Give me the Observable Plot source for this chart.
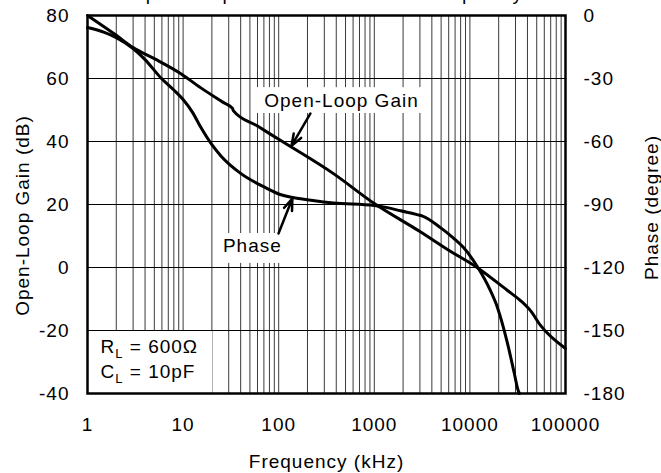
<!DOCTYPE html>
<html><head><meta charset="utf-8">
<script src="https://cdn.jsdelivr.net/npm/d3@7"></script>
<script src="https://cdn.jsdelivr.net/npm/@observablehq/plot@0.6"></script>
<style>
body{margin:0;background:#fff;}
#chart svg text{letter-spacing:1px;}
</style></head><body><div id="chart"></div>
<script>
// Open-loop gain (dB) vs frequency (kHz)
const gainFreq = [1, 2, 3, 5, 9.4, 15.2, 26, 32.9, 33.5, 60, 100, 374, 1000, 3000, 5830, 12300, 24700, 33800, 43000, 54800, 100000];
const gainDb   = [80, 73.7, 69.8, 66.3, 61.6, 57.1, 52.5, 50.5, 49.8, 44.9, 40.7, 29.8, 20.3, 11.4, 5.7, -0.3, -7.3, -10.5, -13.7, -18.4, -25.7];
// Phase (degree) vs frequency (kHz)
const phaseFreq = [1, 1.5, 2, 3, 4, 5.8, 8, 10, 12.5, 15, 20, 25, 40, 76, 100, 170, 374, 1000, 1370, 1880, 2800, 3200, 4920, 6730, 8570, 12300, 16000, 19400, 24700, 29000, 32000, 33000];
const phaseDeg  = [-5.7, -8, -10.5, -15.7, -21, -29.5, -35.5, -40, -46, -52.5, -61.5, -67, -75.2, -82.4, -85, -87.3, -89.3, -90.5, -91.5, -93, -94.8, -95.5, -101, -106, -110.5, -120.5, -130, -139, -156, -170, -178.6, -180];

const xTicks = [1, 10, 100, 1000, 10000, 100000];
const gainTicks = [-40, -20, 0, 20, 40, 60, 80];
const phaseTicks = [0, -30, -60, -90, -120, -150, -180];

const titleText = "Open-Loop Gain and Phase vs Frequency";
const xLabel = "Frequency (kHz)";
const yLeftLabel = "Open-Loop Gain (dB)";
const yRightLabel = "Phase (degree)";

// annotation boxes, labels, arrows (data coordinates: kHz, dB)
const boxF1 = [60, 20.8, 1];
const boxF2 = [3435, 139, 20.3];
const boxG1 = [48.9, 1.3, -40];
const boxG2 = [57.1, 10.8, -20.2];
const labelText = ["Open-Loop Gain", "Phase"];
const labelF = [454, 53];
const labelG = [53, 6.7];
const arrowF1 = [215, 99.5];
const arrowG1 = [48.9, 10.8];
const arrowF2 = [136, 139];
const arrowG2 = [38.6, 21.9];
const legendLines = ["RL = 600Ω", "CL = 10pF"];
const legendF = [1.368, 1.368];
const legendG = [-25.2, -33.0];

// phase mapped onto the gain axis: 0° -> 80 dB, -180° -> -40 dB
const toGain = p => 80 + p * 120 / 180;
const fromGain = g => Math.round((g - 80) * 180 / 120);

const gridFreqs = [];
for (let e = 0; e < 5; e++) for (let m = 1; m <= 9; m++) gridFreqs.push(m * Math.pow(10, e));
gridFreqs.push(100000);

const gain = gainFreq.map((f, i) => ({f, g: gainDb[i]}));
const phase = phaseFreq.map((f, i) => ({f, g: toGain(phaseDeg[i])}));
const boxes = boxF1.map((f1, i) => ({f1, f2: boxF2[i], g1: boxG1[i], g2: boxG2[i]}));
const labels = labelText.map((t, i) => ({t, f: labelF[i], g: labelG[i]}));
const arrows = arrowF1.map((f1, i) => ({f1, g1: arrowG1[i], f2: arrowF2[i], g2: arrowG2[i]}));
const legend = legendLines.map((t, i) => ({t, f: legendF[i], g: legendG[i]}));

const svg = Plot.plot({
  width: 661,
  height: 473,
  marginTop: 15,
  marginBottom: 80,
  marginLeft: 87,
  marginRight: 96,
  style: {fontFamily: "'Liberation Sans', Arial, sans-serif", fontSize: "19px", color: "black", background: "white"},
  x: {type: "log", domain: [1, 100000]},
  y: {domain: [-40, 80]},
  marks: [
    Plot.ruleX(gridFreqs, {x: d => d, stroke: "#3a3a3a", strokeWidth: 1}),
    Plot.rect(boxes, {x1: "f1", x2: "f2", y1: "g1", y2: "g2", fill: "white"}),
    Plot.ruleY(gainTicks, {y: d => d, stroke: "black", strokeWidth: 1}),
    Plot.line(gain, {x: "f", y: "g", stroke: "black", strokeWidth: 3, curve: "monotone-x"}),
    Plot.line(phase, {x: "f", y: "g", stroke: "black", strokeWidth: 3, curve: "monotone-x"}),
    Plot.text(labels, {x: "f", y: "g", text: "t", fontSize: 19, fill: "black"}),
    Plot.arrow(arrows, {x1: "f1", y1: "g1", x2: "f2", y2: "g2", stroke: "black", strokeWidth: 2.5, headLength: 12, headAngle: 40}),
    Plot.text(legend, {x: "f", y: "g", text: "t", textAnchor: "start", fontSize: 19, fill: "black"}),
    Plot.frame({stroke: "black", strokeWidth: 2.5}),
    Plot.axisX(xTicks, {anchor: "bottom", tickSize: 0, tickPadding: 24, tickFormat: d => String(d), label: null}),
    Plot.axisY(gainTicks, {anchor: "left", tickSize: 0, tickPadding: 18, tickFormat: d => String(d), label: null}),
    Plot.axisY(phaseTicks.map(toGain), {anchor: "right", tickSize: 0, tickPadding: 18, tickFormat: g => String(fromGain(g)), label: null}),
    Plot.text([xLabel], {frameAnchor: "bottom", lineAnchor: "middle", textAnchor: "middle", dy: 68, text: d => d, fontSize: 19}),
    Plot.text([yLeftLabel], {frameAnchor: "left", textAnchor: "middle", lineAnchor: "middle", dx: -65, dy: 11, rotate: -90, text: d => d, fontSize: 19}),
    Plot.text([yRightLabel], {frameAnchor: "right", textAnchor: "middle", lineAnchor: "middle", dx: 86, dy: 3, rotate: -90, text: d => d, fontSize: 19}),
    Plot.text([titleText], {frameAnchor: "top", lineAnchor: "top", dy: -29, text: d => d, fontSize: 19})
  ]
});

// subscripts for R_L and C_L
d3.select(svg).selectAll("text").each(function() {
  const s = this.textContent;
  if (s === legendLines[0] || s === legendLines[1]) {
    const sel = d3.select(this);
    sel.text(null);
    sel.append("tspan").text(s[0]);
    sel.append("tspan").attr("font-size", 13).attr("dy", 5).text(s[1]);
    sel.append("tspan").attr("dy", -5).text(s.slice(2));
  }
});

document.getElementById("chart").appendChild(svg);
</script>
</body></html>
